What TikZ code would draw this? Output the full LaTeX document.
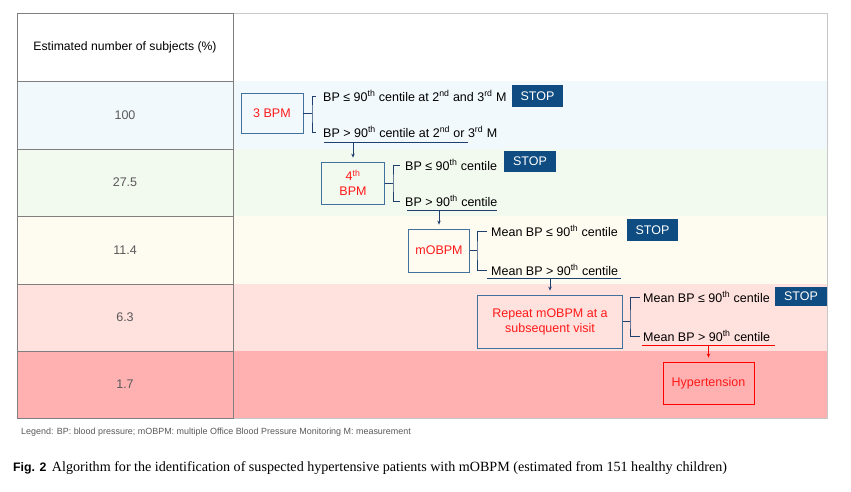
\documentclass[tikz,border=0pt]{standalone}
\usepackage{fontspec}
\setmainfont{Liberation Sans}
\newfontfamily\capserif{Liberation Serif}
\usetikzlibrary{arrows.meta}
\definecolor{rowA}{HTML}{F2F9FD}
\definecolor{rowB}{HTML}{F2F9EE}
\definecolor{rowC}{HTML}{FEFCF0}
\definecolor{rowD}{HTML}{FFE1DD}
\definecolor{rowE}{HTML}{FFB1B1}
\definecolor{gridDark}{HTML}{7F7F7F}
\definecolor{gridLight}{HTML}{C8C8C8}
\definecolor{boxBlue}{HTML}{41719C}
\definecolor{lineBlue}{HTML}{1F3F6E}
\definecolor{stopBlue}{HTML}{0F4C81}
\definecolor{numGrey}{HTML}{595959}
\definecolor{redText}{HTML}{FF1A1A}
\newcommand{\sups}[1]{\textsuperscript{#1}}
\tikzset{
  fsz/.style={font=\fontsize{#1}{15}\selectfont},
  stepbox/.style={draw=boxBlue, line width=0.8pt, text=redText, align=center,
    font=\fontsize{12.5}{15}\selectfont, inner sep=0pt},
  branch/.style={anchor=west, inner ysep=0pt, text=black,
    font=\fontsize{12.5}{15}\selectfont},
  stopbox/.style={fill=stopBlue, text=white, minimum width=51pt, minimum height=22pt,
    inner sep=0pt, font=\fontsize{12.5}{15}\selectfont},
  numtxt/.style={text=numGrey, font=\fontsize{12.5}{15}\selectfont},
  conn/.style={draw=lineBlue, line width=0.8pt},
  arr/.style={draw=lineBlue, line width=0.8pt, -{Stealth[length=4pt,width=3.5pt]}, shorten >=4pt},
}
\begin{document}
\begin{tikzpicture}[x=1pt,y=-1pt]
\fill[white] (0,0) rectangle (851,492);
\useasboundingbox (0,0) rectangle (851,492);
% row bands
\fill[rowA] (17,81) rectangle (827,149);
\fill[rowB] (17,149) rectangle (827,216);
\fill[rowC] (17,216) rectangle (827,284);
\fill[rowD] (17,284) rectangle (827,351);
\fill[rowE] (17,351) rectangle (827,418);
% grid
\draw[gridLight, line width=0.8pt] (17,13) rectangle (827,418);
\draw[gridDark, line width=0.8pt] (17,13) rectangle (233,418);
\foreach \yy in {81,149,216,284,351}{\draw[gridDark, line width=0.8pt] (17,\yy) -- (233,\yy);}
% left column texts
\node[fsz=12.2, text=black] (hdr) at (125,47) {Estimated number of subjects (\%)};
\node[numtxt] (n1) at (125,115) {100};
\node[numtxt] (n2) at (125,182.5) {27.5};
\node[numtxt] (n3) at (125,250) {11.4};
\node[numtxt] (n4) at (125,317.5) {6.3};
\node[numtxt] (n5) at (125,384.5) {1.7};
% level 1
\node[stepbox, minimum width=62pt, minimum height=40pt] (b1) at (272,113) {3 BPM};
\coordinate (k1) at (312,113);
\node[branch, inner xsep=7pt] (t1a) at (316,96) {BP ≤ 90\sups{th} centile at 2\sups{nd} and 3\sups{rd} M};
\node[branch, inner xsep=7pt] (t1b) at (316,132) {BP > 90\sups{th} centile at 2\sups{nd} or 3\sups{rd} M};
\node[stopbox] (s1) at (537.5,96) {STOP};
\draw[conn] (b1.east) -- (k1);
\draw[conn] (t1a.west) -| (k1) |- (t1b.west);
\coordinate (u1a) at (324,142);
\coordinate (u1b) at (468,142);
\draw[conn] (u1a) -- (u1b);
% level 2
\node[stepbox, minimum width=63pt, minimum height=42pt] (b2) at (353,183) {4\sups{th}\\BPM};
\coordinate (k2) at (393,183);
\draw[arr] (b2.north |- u1a) -- (b2.north);
\node[branch, inner xsep=5pt] (t2a) at (400,165) {BP ≤ 90\sups{th} centile};
\node[branch, inner xsep=5pt] (t2b) at (400,201) {BP > 90\sups{th} centile};
\node[stopbox, minimum width=52pt, minimum height=21pt] (s2) at (530,161.5) {STOP};
\draw[conn] (b2.east) -- (k2);
\draw[conn] (t2a.west) -| (k2) |- (t2b.west);
\coordinate (u2a) at (407,210);
\coordinate (u2b) at (497,210);
\draw[conn] (u2a) -- (u2b);
% level 3
\node[stepbox, minimum width=61pt, minimum height=43pt] (b3) at (439,250.5) {mOBPM};
\coordinate (k3) at (477,250.5);
\draw[arr] (b3.north |- u2a) -- (b3.north);
\node[branch, inner xsep=4pt] (t3a) at (487,231) {Mean BP ≤ 90\sups{th} centile};
\node[branch, inner xsep=4pt] (t3b) at (487,270) {Mean BP > 90\sups{th} centile};
\node[stopbox] (s3) at (652.5,230) {STOP};
\draw[conn] (b3.east) -- (k3);
\draw[conn] (t3a.west) -| (k3) |- (t3b.west);
\coordinate (u3a) at (487,278);
\coordinate (u3b) at (621,278);
\draw[conn] (u3a) -- (u3b);
% level 4
\node[stepbox, minimum width=145pt, minimum height=53pt] (b4) at (550,321.5) {Repeat mOBPM at a\\subsequent visit};
\coordinate (k4) at (630,321.5);
\draw[arr] (b4.north |- u3a) -- (b4.north);
\node[branch, inner xsep=3pt] (t4a) at (640,297) {Mean BP ≤ 90\sups{th} centile};
\node[branch, inner xsep=3pt] (t4b) at (640,336) {Mean BP > 90\sups{th} centile};
\node[stopbox, minimum width=52pt, minimum height=19pt] (s4) at (801,296.5) {STOP};
\draw[conn] (b4.east) -- (k4);
\draw[conn] (t4a.west) -| (k4) |- (t4b.west);
\coordinate (u4a) at (642,345);
\coordinate (u4b) at (775,345);
\draw[red, line width=0.8pt] (u4a) -- (u4b);
% level 5
\node[stepbox, draw=red, minimum width=91pt, minimum height=42pt] (b5) at (708.5,383) {Hypertension};
\draw[arr, draw=red] (b5.north |- u4a) -- (b5.north);
% legend and caption
\node[anchor=west, inner sep=0pt, text=numGrey, fsz=8.95] (leg) at (21,432) {Legend: BP: blood pressure; mOBPM: multiple Office Blood Pressure Monitoring M: measurement};
\node[anchor=west, inner sep=0pt, fsz=12.3] (cap) at (13,468) {\textbf{Fig. 2}\hspace{0.45em}{\capserif\fontsize{14.1}{16}\selectfont Algorithm for the identification of suspected hypertensive patients with mOBPM (estimated from 151 healthy children)}};
\end{tikzpicture}
\end{document}
